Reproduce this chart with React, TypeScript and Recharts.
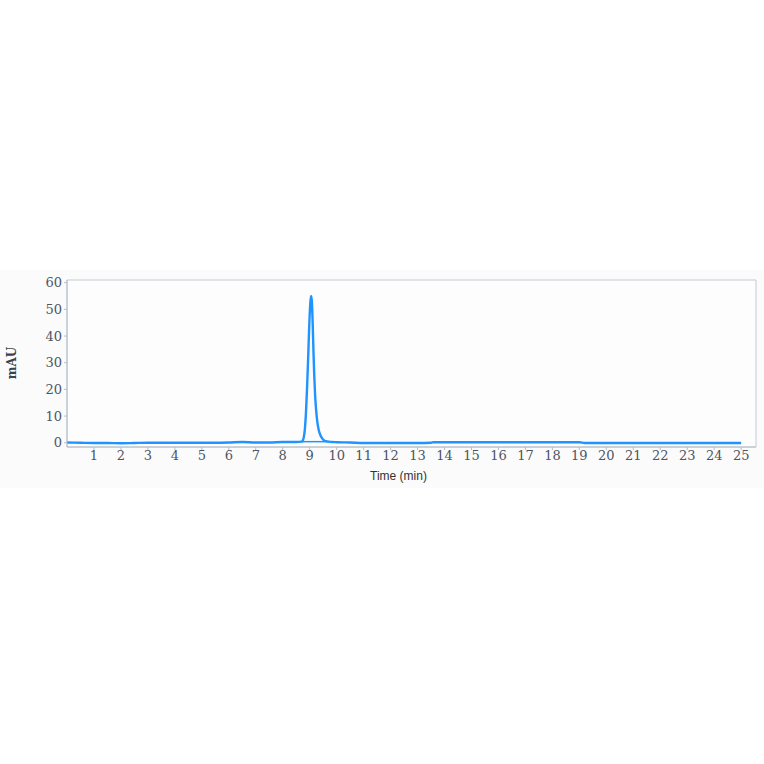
import React from 'react';
import {
  LineChart,
  Line,
  XAxis,
  YAxis,
  CartesianGrid,
  ReferenceArea,
} from 'recharts';

// retention time (min) and absorbance (mAU)
const times = [
  0, 0.5, 1, 1.5, 2, 2.5, 3, 3.5, 4, 4.5, 5, 5.5, 6, 6.5, 7, 7.5, 8, 8.5,
  8.7, 8.74, 8.78, 8.82, 8.86, 8.9, 8.94, 8.98, 9.02, 9.05, 9.08, 9.11, 9.14,
  9.17, 9.2, 9.24, 9.28, 9.33, 9.39, 9.45, 9.52, 9.6, 9.7, 9.8, 10, 10.5, 11,
  11.5, 12, 12.5, 13, 13.5, 13.6, 14, 15, 16, 17, 18, 19, 19.2, 20, 21, 22,
  23, 24, 25,
];
const signal = [
  0.1, 0, -0.1, -0.1, -0.2, -0.1, 0, 0, 0, 0, 0, 0, 0.1, 0.3, 0.1, 0.1, 0.3,
  0.3, 0.4, 0.8, 2, 5, 11, 20, 31, 43, 52, 55, 53, 45, 34, 25, 18, 12, 8, 5,
  3, 1.8, 1, 0.6, 0.4, 0.3, 0.2, 0.1, -0.1, -0.1, -0.1, -0.1, -0.1, 0, 0.2,
  0.2, 0.2, 0.2, 0.2, 0.2, 0.2, -0.1, -0.1, -0.1, -0.1, -0.1, -0.1, -0.1,
];

// integration baseline drawn under the peak
const baselineTimes = [8.7, 9.7];
const baselineValues = [0.4, 0.4];

const xTicks = [1, 2, 3, 4, 5, 6, 7, 8, 9, 10, 11, 12, 13, 14, 15, 16, 17, 18, 19, 20, 21, 22, 23, 24, 25];
const yTicks = [0, 10, 20, 30, 40, 50, 60];

const traceData = times.map((t, i) => ({ t, v: signal[i] }));
const baselineData = baselineTimes.map((t, i) => ({ t, v: baselineValues[i] }));

const tickStyle = { fontFamily: 'DejaVu Serif', fontSize: 13, fill: '#4d5564' };

export default function App() {
  return (
    <div
      style={{
        position: 'absolute',
        left: 0,
        top: 270,
        width: 764,
        height: 218,
        background: '#fbfbfb',
      }}
    >
      <LineChart
        width={764}
        height={218}
        margin={{ top: 10, right: 8, left: 13, bottom: 5 }}
      >
        <CartesianGrid horizontal={false} vertical={false} fill="#fdfdfe" />
        <XAxis
          type="number"
          dataKey="t"
          domain={[0, 25.55]}
          ticks={xTicks}
          allowDataOverflow
          tick={tickStyle}
          tickSize={3}
          tickMargin={1}
          stroke="#b8bec9"
          height={36}
          label={{
            value: 'Time (min)',
            position: 'insideBottom',
            offset: 3,
            dx: -13,
            style: { fontFamily: 'Liberation Sans', fontSize: 12, fill: '#333' },
          }}
        />
        <YAxis
          type="number"
          domain={[-1.6, 61]}
          ticks={yTicks}
          allowDataOverflow
          tick={tickStyle}
          tickSize={3}
          tickMargin={2}
          stroke="#b8bec9"
          width={54}
          label={{
            content: () => (
              <text
                x={16}
                y={93}
                transform="rotate(-90 16 93)"
                textAnchor="middle"
                fontFamily="DejaVu Serif"
                fontWeight="bold"
                fontSize={12}
                fill="#3a4150"
              >
                mAU
              </text>
            ),
          }}
        />
        <ReferenceArea
          x1={0}
          x2={25.55}
          y1={-1.6}
          y2={61}
          fill="none"
          stroke="#c4c9d2"
          strokeWidth={1}
        />
        <Line
          data={baselineData}
          dataKey="v"
          type="linear"
          stroke="#1f93ff"
          strokeWidth={1.5}
          dot={false}
          isAnimationActive={false}
        />
        <Line
          data={traceData}
          dataKey="v"
          type="monotone"
          stroke="#1f93ff"
          strokeWidth={2.4}
          dot={false}
          isAnimationActive={false}
        />
      </LineChart>
    </div>
  );
}
